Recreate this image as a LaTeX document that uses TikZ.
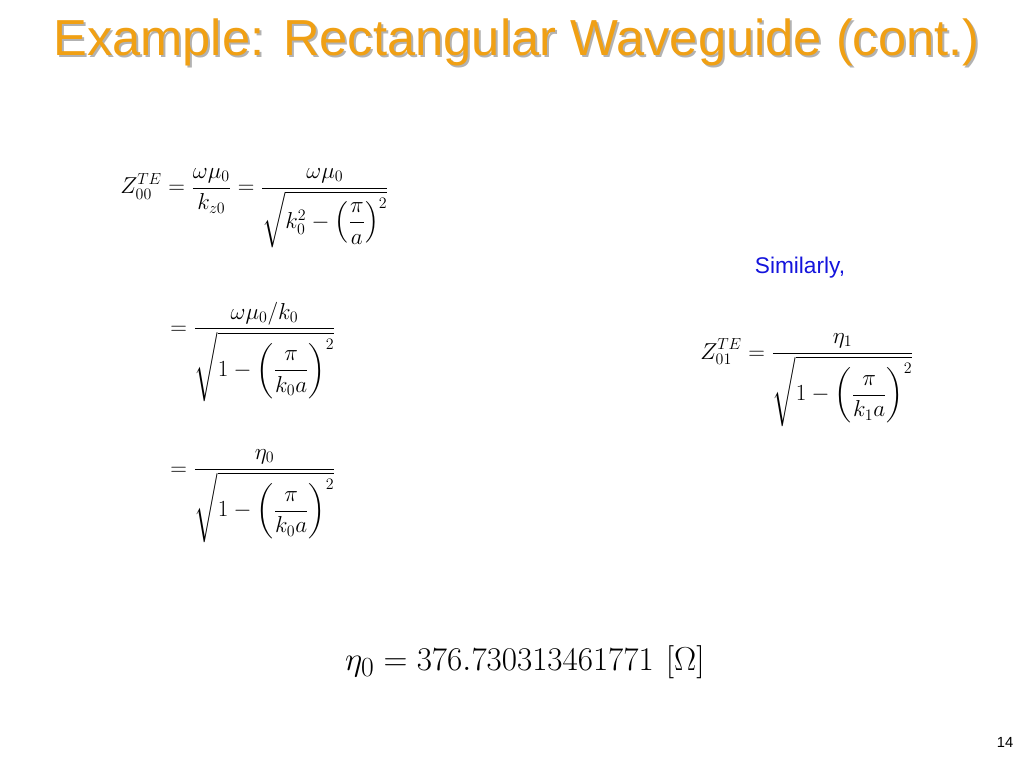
\documentclass[tikz,border=0pt]{standalone}
\usepackage{fontspec}
\setsansfont{Liberation Sans}
\usepackage{amsmath}
\definecolor{ttl}{RGB}{240,160,20}
\definecolor{blu}{RGB}{20,20,220}
\begin{document}
\begin{tikzpicture}[x=0.75pt,y=-0.75pt,
  eq/.style={inner sep=0pt,font=\fontsize{18.5}{22}\selectfont},
  ttlstyle/.style={inner sep=0pt,anchor=west,font=\sffamily\fontsize{38}{44}\selectfont}]
\useasboundingbox (0,0) rectangle (1024,768);
\node[ttlstyle,text=gray!60] at (55,44) {Example: Rectangular Waveguide (cont.)};
\node[ttlstyle,text=ttl] (title) at (53,42) {Example: Rectangular Waveguide (cont.)};
\node[eq,anchor=west] (e1) at (120,208) {$\displaystyle Z_{00}^{TE}=\frac{\omega\mu_0}{k_{z0}}=\frac{\omega\mu_0}{\sqrt{k_0^2-\left(\dfrac{\pi}{a}\right)^{2}}}$};
\node[eq,anchor=west] (e2) at (170,352) {$\displaystyle =\frac{\omega\mu_0/k_0}{\sqrt{1-\left(\dfrac{\pi}{k_0a}\right)^{2}}}$};
\node[eq,anchor=west] (e3) at (170,496) {$\displaystyle =\frac{\eta_0}{\sqrt{1-\left(\dfrac{\pi}{k_0a}\right)^{2}}}$};
\node[inner sep=0pt,text=blu,font=\sffamily\fontsize{17}{20}\selectfont] (sim) at (800,268) {Similarly,};
\node[eq,anchor=west] (e4) at (700,380) {$\displaystyle Z_{01}^{TE}=\frac{\eta_1}{\sqrt{1-\left(\dfrac{\pi}{k_1a}\right)^{2}}}$};
\node[eq,font=\fontsize{30}{34}\selectfont] (e5) at (525,662) {$\eta_0=376.730313461771~[\Omega]$};
\node[inner sep=0pt,font=\sffamily\fontsize{11}{13}\selectfont] (pg) at (1005,742) {14};
\end{tikzpicture}
\end{document}
